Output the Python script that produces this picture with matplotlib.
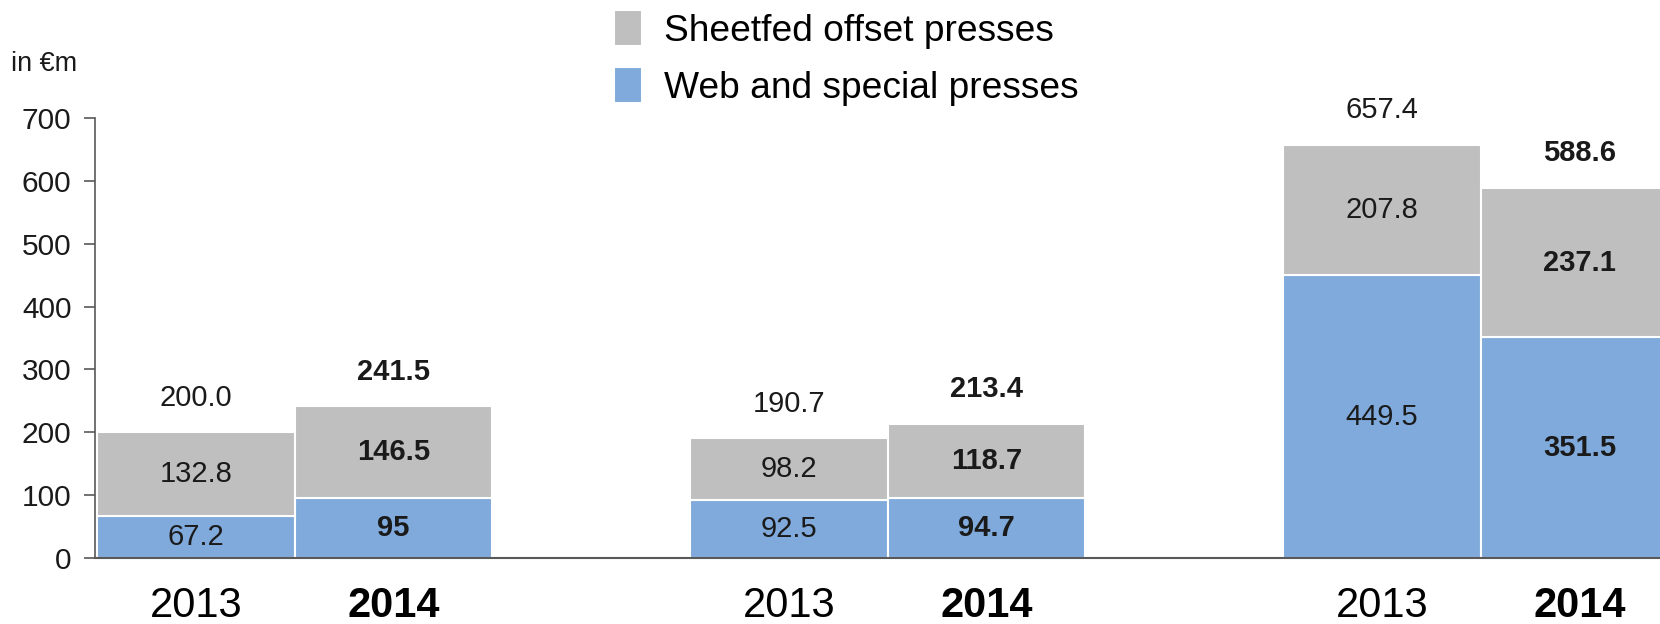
import matplotlib.pyplot as plt
import numpy as np

plt.rcParams['font.family'] = ['Liberation Sans', 'DejaVu Sans']

years = ['2013', '2014', '2013', '2014', '2013', '2014']
web = [67.2, 95, 92.5, 94.7, 449.5, 351.5]
sheetfed = [132.8, 146.5, 98.2, 118.7, 207.8, 237.1]
totals = [200.0, 241.5, 190.7, 213.4, 657.4, 588.6]
bold = [False, True, False, True, False, True]

pos = np.array([0.5, 1.5, 3.5, 4.5, 6.5, 7.5])

c_web = '#7FAADB'
c_sheet = '#BFBFBF'
txt = '#1a1a1a'

fig = plt.figure(figsize=(16.6, 6.24), dpi=100)
ax = fig.add_axes([95 / 1660, 66 / 624, 1 - 95 / 1660, 440 / 624])

ax.bar(pos, web, width=1.0, color=c_web, edgecolor='white', linewidth=1.5,
       label='Web and special presses')
ax.bar(pos, sheetfed, width=1.0, bottom=web, color=c_sheet, edgecolor='white',
       linewidth=1.5, label='Sheetfed offset presses')

for x, w, s, t, b in zip(pos, web, sheetfed, totals, bold):
    fw = 'bold' if b else 'normal'
    ax.text(x, w / 2, f'{w:g}', ha='center', va='center', fontsize=21,
            fontweight=fw, color=txt)
    ax.text(x, w + s / 2, f'{s:g}', ha='center', va='center', fontsize=21,
            fontweight=fw, color=txt)
    ax.text(x, t + 55, f'{t:.1f}', ha='center', va='center', fontsize=21,
            fontweight=fw, color=txt)

ax.set_xlim(-0.01, 7.906)
ax.set_ylim(0, 700)
ax.set_yticks(range(0, 701, 100))
ax.set_xticks(pos)
ax.set_xticklabels(years)
for lab, b in zip(ax.get_xticklabels(), bold):
    if b:
        lab.set_fontweight('bold')

ax.tick_params(axis='x', length=0, pad=20, labelsize=30, labelcolor='black')
ax.tick_params(axis='y', length=8, width=1.2, color='#595959', pad=9,
               labelsize=21.5, labelcolor=txt)

for side in ['top', 'right']:
    ax.spines[side].set_visible(False)
ax.spines['left'].set_color('#595959')
ax.spines['bottom'].set_color('#595959')
ax.spines['left'].set_linewidth(1.2)
ax.spines['bottom'].set_linewidth(1.5)

fig.text(11 / 1660, 1 - 64 / 624, 'in €m', fontsize=19.5, va='center', color=txt)

h, l = ax.get_legend_handles_labels()
fig.legend(h[::-1], l[::-1], loc='upper left', bbox_to_anchor=(607 / 1660, 1 - 3 / 624),
           frameon=False, fontsize=26.7, handlelength=0.75, handleheight=1.1,
           handletextpad=0.6, labelspacing=0.5, borderaxespad=0, borderpad=0.2)

fig.savefig('out.png', dpi=100)
